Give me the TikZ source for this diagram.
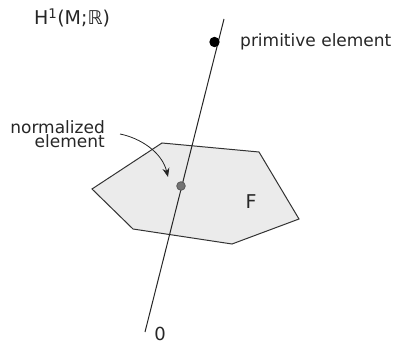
\documentclass[tikz,border=0pt]{standalone}
\usepackage{fontspec}
\setmainfont{DejaVu Sans}
\usetikzlibrary{arrows.meta}
\begin{document}
\begin{tikzpicture}[x=1pt,y=-1pt,
  lbl/.style={inner sep=0pt,font=\fontsize{17}{14}\selectfont,text=black!85},
  big/.style={inner sep=0pt,font=\fontsize{19}{20}\selectfont,text=black!85}]
\useasboundingbox (0,0) rectangle (398,344);
% polygon
\coordinate (p1) at (92,189);
\coordinate (p2) at (162,143);
\coordinate (p3) at (259,152);
\coordinate (p4) at (299,219);
\coordinate (p5) at (232,244);
\coordinate (p6) at (133,229);
\draw[line width=1pt, fill=black!8, draw=black!80] (p1) -- (p2) -- (p3) -- (p4) -- (p5) -- (p6) -- cycle;
% line
\coordinate (o) at (145,332);
\coordinate (t) at (224,19);
\draw[line width=1pt, black!85] (o) -- (t);
% dots
\fill[black] (214.5,42) circle (5.2);
\fill[black!55, draw=black!65, line width=0.8pt] (181,186) circle (4.3);
% labels
\node[big] (h) at (72,18) {H\textsuperscript{1}(M;ℝ)};
\node[lbl, anchor=west] (pe) at (240,42) {primitive element};
\node[lbl, align=right, anchor=east] (ne) at (105,134) {normalized\\element};
\node[big] (f) at (251,202) {F};
\node[big, font=\fontsize{18}{19}\selectfont] (z) at (160,333.5) {0};
% arrow
\coordinate (as) at (120,134);
\coordinate (ae) at (168,177);
\draw[line width=0.8pt, black!85, -{Stealth[length=9pt,width=7pt]}] (as) .. controls (140,138) and (162,152) .. (ae);
\end{tikzpicture}
\end{document}
